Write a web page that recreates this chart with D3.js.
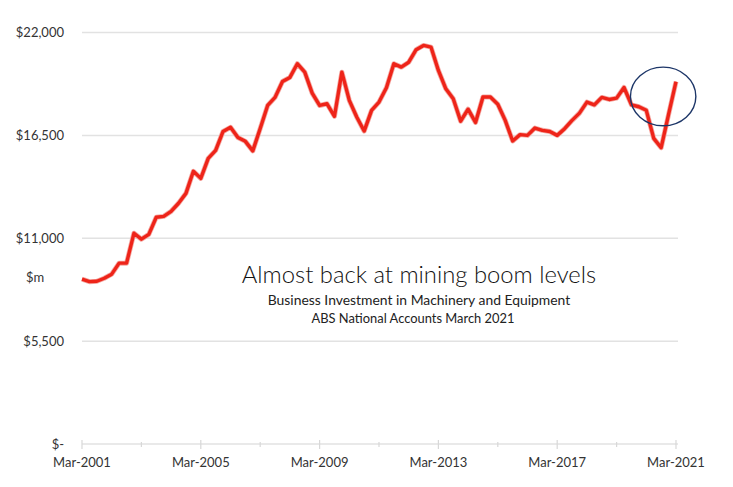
<!DOCTYPE html>
<html>
<head>
<meta charset="utf-8">
<script src="https://cdn.jsdelivr.net/npm/d3@7"></script>
<style>
  body { margin: 0; background: #fff; }
  text { font-family: Lato, "Open Sans", sans-serif; }
</style>
</head>
<body>
<div id="chart"></div>
<script>
// quarterly business investment, machinery & equipment ($m), Mar-2001 .. Mar-2021
var investment = [
  8810, 8680, 8700, 8860, 9080, 9670, 9670, 11270, 10950, 11210,
  12120, 12170, 12440, 12870, 13400, 14580, 14200, 15270, 15700, 16710,
  16930, 16390, 16180, 15670, 16870, 18100, 18530, 19380, 19600, 20330,
  19880, 18760, 18100, 18190, 17520, 19880, 18370, 17480, 16730, 17840,
  18280, 19050, 20330, 20150, 20410, 21080, 21310, 21220, 19970, 18990,
  18460, 17260, 17900, 17190, 18550, 18550, 18160, 17300, 16200, 16540,
  16500, 16890, 16770, 16710, 16500, 16860, 17300, 17690, 18280, 18130,
  18530, 18420, 18490, 19060, 18130, 18030, 17840, 16340, 15840, 17620,
  19370
];
var yTicks = [0, 5500, 11000, 16500, 22000];
var yTickLabels = ["$-", "$5,500", "$11,000", "$16,500", "$22,000"];
var xTickLabels = ["Mar-2001", "Mar-2005", "Mar-2009", "Mar-2013", "Mar-2017", "Mar-2021"];
var minorTickLabels = ["Mar-2003", "Mar-2007", "Mar-2011", "Mar-2015", "Mar-2019"];

var width = 733,
    height = 487;

function quarterIndex(lbl) {
  return (parseInt(lbl.split("-")[1]) - 2001) * 4;
}

var x = d3.scaleLinear()
    .domain([0, investment.length - 1])
    .range([82, 676]);

var y = d3.scaleLinear()
    .domain([0, 22000])
    .range([444, 32.5]);

var svg = d3.select("#chart").append("svg")
    .attr("width", width)
    .attr("height", height);

// gridlines
svg.append("g")
  .selectAll("line")
  .data(yTicks)
  .enter().append("line")
    .attr("x1", 82)
    .attr("x2", 678)
    .attr("y1", d => y(d))
    .attr("y2", d => y(d))
    .attr("stroke", "#e2e2e2")
    .attr("stroke-width", 1.5);

// y labels
svg.append("g")
  .selectAll("text")
  .data(yTicks)
  .enter().append("text")
    .attr("x", 64)
    .attr("y", d => y(d))
    .attr("dy", "0.36em")
    .attr("text-anchor", "end")
    .style("font-size", "13px")
    .style("fill", "#333")
    .text((d, i) => yTickLabels[i]);

svg.append("text")
    .attr("x", 35)
    .attr("y", 282)
    .attr("text-anchor", "middle")
    .style("font-size", "13px")
    .style("fill", "#333")
    .text("$m");

// x axis ticks
svg.append("g")
  .selectAll("line")
  .data(xTickLabels)
  .enter().append("line")
    .attr("x1", d => x(quarterIndex(d)))
    .attr("x2", d => x(quarterIndex(d)))
    .attr("y1", 440)
    .attr("y2", 449)
    .attr("stroke", "#d8d8d8")
    .attr("stroke-width", 1.2);

svg.append("g")
  .selectAll("line")
  .data(minorTickLabels)
  .enter().append("line")
    .attr("x1", d => x(quarterIndex(d)))
    .attr("x2", d => x(quarterIndex(d)))
    .attr("y1", 442)
    .attr("y2", 447)
    .attr("stroke", "#d8d8d8")
    .attr("stroke-width", 1.2);

svg.append("g")
  .selectAll("text")
  .data(xTickLabels)
  .enter().append("text")
    .attr("x", d => x(quarterIndex(d)))
    .attr("y", 467)
    .attr("text-anchor", "middle")
    .style("font-size", "13px")
    .style("fill", "#333")
    .text(d => d);

// line
var line = d3.line()
    .x((d, i) => x(i))
    .y(d => y(d));

svg.append("path")
    .datum(investment)
    .attr("d", line)
    .attr("fill", "none")
    .attr("stroke", "#f4aaa4")
    .attr("stroke-width", 5)
    .attr("stroke-linejoin", "round");

svg.append("path")
    .datum(investment)
    .attr("d", line)
    .attr("fill", "none")
    .attr("stroke", "#ee2419")
    .attr("stroke-width", 3.4)
    .attr("stroke-linejoin", "round");

// highlight circle round the last quarters
svg.append("ellipse")
    .attr("cx", x(investment.length - 3) + 2)
    .attr("cy", y(18580))
    .attr("rx", 32.7)
    .attr("ry", 29.3)
    .attr("fill", "none")
    .attr("stroke", "#1d3668")
    .attr("stroke-width", 1.4);

// titles
svg.append("text")
    .attr("x", 419)
    .attr("y", 282.5)
    .attr("text-anchor", "middle")
    .style("font-size", "23.8px")
    .style("font-weight", 300)
    .style("fill", "#111")
    .text("Almost back at mining boom levels");

svg.append("text")
    .attr("x", 419)
    .attr("y", 305)
    .attr("text-anchor", "middle")
    .style("font-size", "13.9px")
    .style("fill", "#222")
    .text("Business Investment in Machinery and Equipment");

svg.append("text")
    .attr("x", 413)
    .attr("y", 323)
    .attr("text-anchor", "middle")
    .style("font-size", "12.9px")
    .style("fill", "#222")
    .text("ABS National Accounts March 2021");
</script>
</body>
</html>
